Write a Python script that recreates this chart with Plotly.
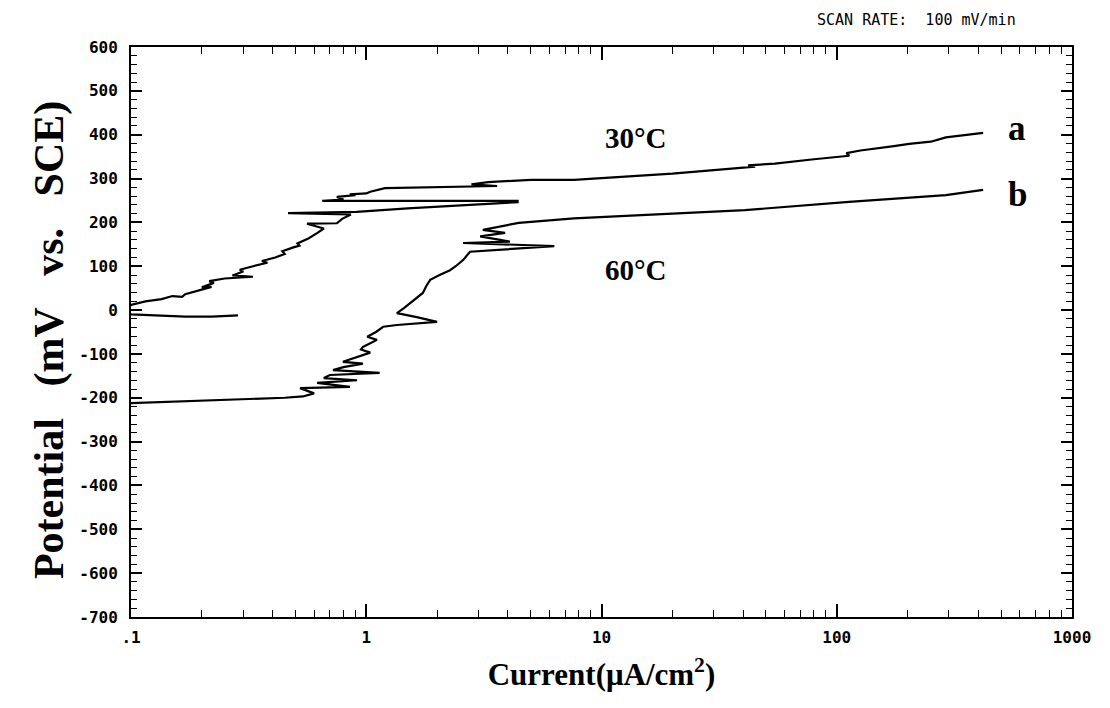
import plotly.graph_objects as go

# Curve a (30 °C): current density (µA/cm²) and potential (mV vs. SCE)
current_a = [0.285, 0.22, 0.17, 0.12, 0.1, 0.095, 0.1, 0.115, 0.135, 0.15, 0.165, 0.17, 0.19, 0.22,
             0.2, 0.225, 0.215, 0.25, 0.33, 0.27, 0.30, 0.29, 0.33, 0.38, 0.36, 0.41, 0.45, 0.44,
             0.49, 0.52, 0.51, 0.57, 0.62, 0.66, 0.56, 0.75, 0.79, 0.86, 0.465, 0.91, 1.5, 2.5,
             4.4, 4.4, 0.65, 0.8, 0.75, 0.9, 0.85, 1.0, 1.04, 1.2, 2.0, 3.0, 3.6, 2.8, 3.3, 5.0,
             7.64, 20.0, 40.7, 45.0, 42.0, 54.6, 80.0, 113.0, 110.0, 126.0, 175.0, 203.0, 251.0,
             291.0, 419.0]
potential_a = [-12, -15, -15, -12, -10, 0, 12, 20, 25, 32, 30, 36, 44, 53,
               52, 62, 66, 72, 76, 79, 88, 92, 100, 108, 112, 120, 128, 134,
               143, 147, 152, 164, 176, 186, 197, 198, 208, 218, 221, 224, 232, 239,
               246, 249, 249, 252, 258, 262, 264, 266, 270, 278, 280, 283, 283, 287, 292, 297,
               297, 311, 325, 327, 330, 334, 344, 352, 358, 364, 374, 379, 384,
               394, 404]

# Curve b (60 °C)
current_b = [0.1, 0.264, 0.45, 0.538, 0.6, 0.523, 0.853, 0.618, 0.914, 0.66, 0.701, 1.14, 0.722,
             0.8, 0.968, 0.796, 0.9, 1.04, 0.95, 0.968, 1.11, 1.01, 1.1, 1.18, 1.35, 2.0, 1.64,
             1.35, 1.45, 1.54, 1.6, 1.74, 1.8, 1.87, 2.05, 2.27, 2.4, 2.58, 2.76, 6.3, 2.58,
             4.08, 3.05, 3.89, 3.13, 3.6, 4.45, 7.64, 40.7, 112.7, 291.0, 419.0]
potential_b = [-212, -205, -200, -197, -190, -178, -175, -166, -160, -155, -148, -143, -137,
               -130, -122, -118, -108, -97, -90, -84, -68, -61, -50, -38, -34, -27, -16,
               -7, 5, 16, 25, 39, 55, 69, 80, 91, 100, 114, 133, 146, 153,
               156, 168, 176, 183, 190, 199, 209, 228, 247, 262, 274]

# Axis ticks
x_tick_vals = [0.1, 1, 10, 100, 1000]
x_tick_text = [".1", "1", "10", "100", "1000"]
x_minor_vals = [m * d for d in (0.1, 1, 10, 100) for m in range(2, 10)]
y_tick_vals = list(range(-700, 601, 100))
y_tick_text = [str(v) for v in y_tick_vals]
y_minor_vals = [v for v in range(-700, 601, 20) if v % 100 != 0]

fig = go.Figure()
for xs, ys in ((current_a, potential_a), (current_b, potential_b)):
    fig.add_trace(go.Scatter(x=xs, y=ys, mode="lines",
                             line=dict(color="black", width=2.2), showlegend=False,
                             hoverinfo="skip"))

tick_font = dict(family="DejaVu Sans Mono", size=16, color="black", weight="bold")

fig.update_layout(
    width=1110, height=708,
    margin=dict(l=131, r=38, t=47, b=91),
    paper_bgcolor="white", plot_bgcolor="white",
    xaxis=dict(
        type="log", range=[-1, 3],
        showline=True, linecolor="black", linewidth=2, mirror="ticks",
        showgrid=False, zeroline=False,
        ticks="inside", ticklen=13, tickwidth=1.5, tickcolor="black",
        tickmode="array", tickvals=x_tick_vals, ticktext=x_tick_text,
        tickfont=tick_font, ticklabelstandoff=5,
        minor=dict(tickmode="array", tickvals=x_minor_vals, ticks="inside",
                   ticklen=7, tickwidth=1.3, tickcolor="black", showgrid=False),
        title=dict(text="<b>Current(μA/cm<sup>2</sup>)</b>",
                   font=dict(family="Liberation Serif", size=31, color="black"), standoff=17),
    ),
    yaxis=dict(
        range=[-700, 600],
        showline=True, linecolor="black", linewidth=2, mirror="ticks",
        showgrid=False, zeroline=False,
        ticks="inside", ticklen=11, tickwidth=1.5, tickcolor="black",
        tickmode="array", tickvals=y_tick_vals, ticktext=y_tick_text,
        tickfont=tick_font, ticklabelstandoff=8,
        minor=dict(tickmode="array", tickvals=y_minor_vals, ticks="inside",
                   ticklen=6, tickwidth=1.3, tickcolor="black", showgrid=False),
    ),
)

# Vertical axis title
fig.add_annotation(x=-0.086, y=0.486, xref="paper", yref="paper",
                   xanchor="center", yanchor="middle", textangle=-90, showarrow=False,
                   text="<b>Potential\u00a0\u00a0\u00a0(mV\u00a0\u00a0\u00a0vs.\u00a0\u00a0\u00a0SCE)</b>",
                   font=dict(family="Liberation Serif", size=42, color="black"))

label_font = dict(family="Liberation Serif", size=29, color="black")
fig.add_annotation(x=0.537, y=0.840, xref="paper", yref="paper", text="<b>30°C</b>",
                   xanchor="center", yanchor="middle", showarrow=False, font=label_font)
fig.add_annotation(x=0.537, y=0.609, xref="paper", yref="paper", text="<b>60°C</b>",
                   xanchor="center", yanchor="middle", showarrow=False, font=label_font)
curve_label_font = dict(family="Liberation Serif", size=35, color="black")
fig.add_annotation(x=0.9416, y=0.857, xref="paper", yref="paper", text="<b>a</b>",
                   xanchor="center", yanchor="middle", showarrow=False, font=curve_label_font)
fig.add_annotation(x=0.9416, y=0.742, xref="paper", yref="paper", text="<b>b</b>",
                   xanchor="center", yanchor="middle", showarrow=False, font=curve_label_font)
fig.add_annotation(x=0.835, y=1.047, xref="paper", yref="paper",
                   xanchor="center", yanchor="middle",
                   text="SCAN RATE:\u00a0\u00a0100 mV/min", showarrow=False,
                   font=dict(family="DejaVu Sans Mono", size=15, color="black"))

fig.write_html("out.html")
